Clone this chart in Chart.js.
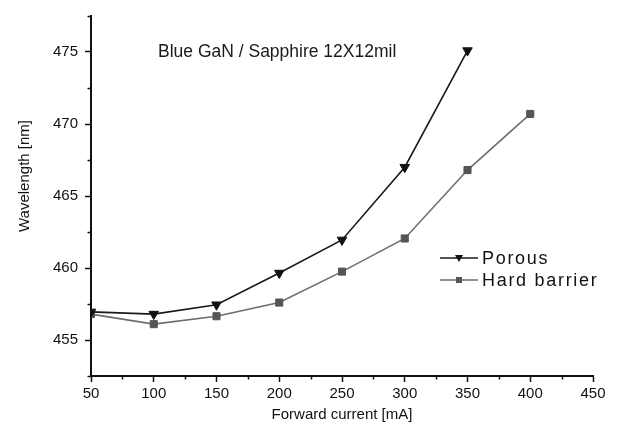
<!DOCTYPE html>
<html><head><meta charset="utf-8">
<script src="https://cdn.jsdelivr.net/npm/chart.js@4"></script>
<style>html,body{margin:0;padding:0;background:#fff}#wrap{width:618px;height:432px}</style>
</head><body><div id="wrap"><canvas id="c" width="618" height="432"></canvas></div>
<script>
const currents = [50, 100, 150, 200, 250, 300, 350, 400];
const porous = [456.95, 456.8, 457.45, 459.65, 461.95, 467.0, 475.1];
const hardBarrier = [456.8, 456.1, 456.65, 457.6, 459.75, 462.05, 466.8, 470.7];
const seriesNames = ['Porous', 'Hard barrier'];
const xTicks = [50, 100, 150, 200, 250, 300, 350, 400, 450];
const yTicks = [455, 460, 465, 470, 475];
const xMinorTicks = [75, 125, 175, 225, 275, 325, 375, 425];
const yMinorTicks = [452.5, 457.5, 462.5, 467.5, 472.5, 477.5];
const noteText = 'Blue GaN / Sapphire 12X12mil';
const xTitle = 'Forward current [mA]';
const yTitle = 'Wavelength [nm]';

const FONT = '"Liberation Sans", Arial, sans-serif';
const toPts = (vals) => vals.map((v, i) => ({ x: currents[i], y: v }));

const extras = {
  id: 'extras',
  afterDraw(chart) {
    const ctx = chart.ctx;
    const xs = chart.scales.x, ys = chart.scales.y;
    ctx.save();
    // minor ticks
    ctx.strokeStyle = '#111'; ctx.lineWidth = 1.5;
    xMinorTicks.forEach(v => {
      const px = Math.round(xs.getPixelForValue(v)) + 0.5;
      ctx.beginPath(); ctx.moveTo(px, ys.bottom); ctx.lineTo(px, ys.bottom + 3.5); ctx.stroke();
    });
    yMinorTicks.forEach(v => {
      const py = Math.round(ys.getPixelForValue(v)) + 0.5;
      ctx.beginPath(); ctx.moveTo(xs.left, py); ctx.lineTo(xs.left - 3.5, py); ctx.stroke();
    });
    // y title
    ctx.save();
    ctx.translate(25, 176);
    ctx.rotate(-Math.PI / 2);
    ctx.font = '15px ' + FONT;
    ctx.fillStyle = '#111'; ctx.textAlign = 'center'; ctx.textBaseline = 'middle';
    ctx.fillText(yTitle, 0, 0);
    ctx.restore();
    // note text
    ctx.font = '17.5px ' + FONT;
    ctx.fillStyle = '#1a1a1a'; ctx.textAlign = 'left'; ctx.textBaseline = 'middle';
    ctx.fillText(noteText, 158, 52);
    // legend
    const rows = [258, 280];
    chart.data.datasets.forEach((ds, i) => {
      const y = rows[i];
      ctx.strokeStyle = ds.borderColor; ctx.lineWidth = 1.5;
      ctx.beginPath(); ctx.moveTo(440, y); ctx.lineTo(478, y); ctx.stroke();
      ctx.fillStyle = ds.pointBackgroundColor;
      const cx = 459;
      if (i === 0) {
        ctx.beginPath(); ctx.moveTo(cx - 4, y - 3); ctx.lineTo(cx + 4, y - 3); ctx.lineTo(cx, y + 4); ctx.closePath(); ctx.fill();
      } else {
        ctx.fillRect(cx - 3, y - 3, 6, 6);
      }
      ctx.fillStyle = '#111';
      ctx.font = '18px ' + FONT;
      try { ctx.letterSpacing = '1.7px'; } catch (e) {}
      ctx.textAlign = 'left'; ctx.textBaseline = 'middle';
      ctx.fillText(ds.label, 482, y + 1);
      try { ctx.letterSpacing = '0px'; } catch (e) {}
    });
    ctx.restore();
  }
};

new Chart(document.getElementById('c'), {
  type: 'line',
  data: {
    datasets: [
      {
        label: seriesNames[0], data: toPts(porous),
        borderColor: '#1a1a1a', borderWidth: 1.6,
        pointStyle: 'triangle', rotation: 180, pointRadius: 5.5,
        pointBackgroundColor: '#111', pointBorderColor: '#111', pointBorderWidth: 1
      },
      {
        label: seriesNames[1], data: toPts(hardBarrier),
        borderColor: '#6e6e6e', borderWidth: 1.6,
        pointStyle: 'rect', pointRadius: 5,
        pointBackgroundColor: '#555', pointBorderColor: '#555', pointBorderWidth: 1
      }
    ]
  },
  options: {
    responsive: false, animation: false,
    layout: { padding: { top: 12, right: 25, left: 0, bottom: 0 } },
    plugins: { legend: { display: false }, tooltip: { enabled: false } },
    scales: {
      x: {
        type: 'linear', min: 50, max: 450,
        afterBuildTicks: s => { s.ticks = xTicks.map(v => ({ value: v })); },
        afterFit: s => { s.height = 56; },
        grid: { display: true, drawOnChartArea: false, drawTicks: true, tickLength: 6, tickWidth: 1.5, tickColor: '#111' },
        border: { display: true, color: '#111', width: 2 },
        ticks: { font: { family: FONT, size: 15 }, color: '#111', padding: 3, maxRotation: 0, autoSkip: false },
        title: { display: true, text: xTitle, font: { family: FONT, size: 15 }, color: '#111', padding: { top: 0, bottom: 8 } }
      },
      y: {
        type: 'linear', min: 452.5, max: 477.5,
        afterBuildTicks: s => { s.ticks = yTicks.map(v => ({ value: v })); },
        afterFit: s => { s.width = 91; },
        grid: { display: true, drawOnChartArea: false, drawTicks: true, tickLength: 6, tickWidth: 1.5, tickColor: '#111' },
        border: { display: true, color: '#111', width: 2 },
        ticks: { font: { family: FONT, size: 15 }, color: '#111', padding: 7, autoSkip: false },
        title: { display: false }
      }
    }
  },
  plugins: [extras]
});
</script>
</body></html>
